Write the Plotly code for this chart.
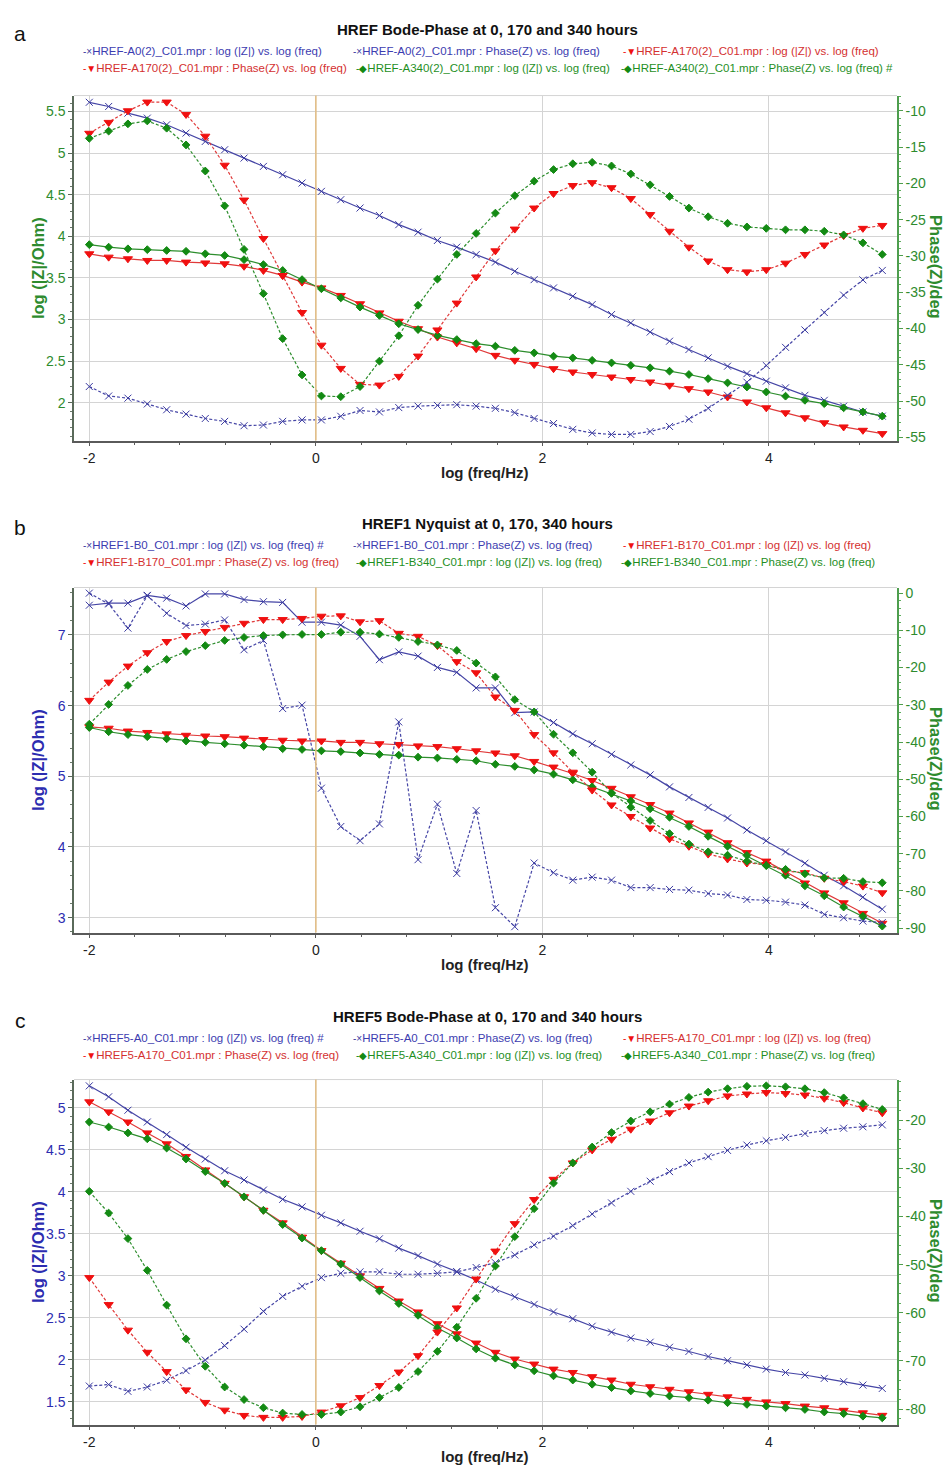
import plotly.graph_objects as go

# ---------------- data ----------------
log_freq = [-2.0, -1.829, -1.659, -1.488, -1.317, -1.146, -0.976, -0.805, -0.634, -0.463,
            -0.293, -0.122, 0.049, 0.220, 0.390, 0.561, 0.732, 0.902, 1.073, 1.244,
            1.415, 1.585, 1.756, 1.927, 2.098, 2.268, 2.439, 2.610, 2.780, 2.951,
            3.122, 3.293, 3.463, 3.634, 3.805, 3.976, 4.146, 4.317, 4.488, 4.659,
            4.829, 5.0]

# Panel a
a_A0_logZ = [5.61, 5.56, 5.48, 5.42, 5.34, 5.24, 5.14, 5.04, 4.94, 4.84, 4.74, 4.64, 4.54, 4.44,
             4.34, 4.25, 4.14, 4.05, 3.95, 3.87, 3.78, 3.69, 3.58, 3.48, 3.38, 3.28, 3.18, 3.06,
             2.96, 2.85, 2.74, 2.64, 2.54, 2.44, 2.35, 2.26, 2.18, 2.09, 2.03, 1.96, 1.89, 1.84]
a_A0_phase = [-48.0, -49.3, -49.6, -50.4, -51.2, -51.8, -52.4, -52.8, -53.4, -53.3, -52.8, -52.6,
              -52.6, -52.1, -51.3, -51.5, -50.9, -50.7, -50.6, -50.5, -50.7, -51.0, -51.6, -52.4,
              -53.1, -53.9, -54.4, -54.6, -54.6, -54.2, -53.5, -52.5, -51.0, -49.2, -47.4, -45.1,
              -42.6, -40.2, -37.8, -35.4, -33.3, -32.0]
a_A170_logZ = [3.79, 3.75, 3.73, 3.71, 3.71, 3.69, 3.68, 3.67, 3.64, 3.59, 3.53, 3.45, 3.38, 3.29,
               3.19, 3.08, 2.98, 2.89, 2.79, 2.72, 2.65, 2.57, 2.51, 2.46, 2.41, 2.37, 2.34, 2.31,
               2.28, 2.25, 2.21, 2.17, 2.13, 2.07, 2.01, 1.94, 1.88, 1.82, 1.76, 1.71, 1.67, 1.63]
a_A170_phase = [-13.1, -11.6, -10.0, -8.8, -8.8, -10.5, -13.5, -17.5, -22.3, -27.6, -32.7, -37.8,
                -42.3, -45.5, -47.7, -47.8, -46.6, -43.8, -40.2, -36.5, -32.9, -29.3, -26.3, -23.4,
                -21.4, -20.3, -19.9, -20.6, -22.1, -24.3, -26.6, -28.8, -30.7, -31.9, -32.2, -31.9,
                -31.0, -29.8, -28.5, -27.2, -26.2, -25.8]
a_A340_logZ = [3.90, 3.87, 3.85, 3.84, 3.83, 3.82, 3.79, 3.77, 3.72, 3.66, 3.59, 3.48, 3.37, 3.26,
               3.15, 3.05, 2.95, 2.88, 2.81, 2.76, 2.71, 2.68, 2.63, 2.60, 2.56, 2.54, 2.51, 2.48,
               2.45, 2.42, 2.38, 2.34, 2.29, 2.24, 2.19, 2.13, 2.08, 2.03, 1.99, 1.94, 1.89, 1.84]
a_A340_phase = [-13.8, -12.8, -11.8, -11.4, -12.4, -14.7, -18.3, -23.1, -29.1, -35.2, -41.4, -46.4,
                -49.3, -49.4, -48.0, -44.5, -41.0, -36.8, -33.2, -29.8, -26.9, -24.1, -21.7, -19.7,
                -18.1, -17.3, -17.1, -17.6, -18.7, -20.2, -21.8, -23.4, -24.6, -25.5, -26.0, -26.2,
                -26.4, -26.4, -26.6, -27.1, -28.2, -29.8]

# Panel b
b_B0_logZ = [7.42, 7.45, 7.45, 7.56, 7.52, 7.41, 7.58, 7.58, 7.50, 7.47, 7.46, 7.18, 7.18, 7.14,
             6.98, 6.65, 6.76, 6.70, 6.54, 6.47, 6.25, 6.25, 5.90, 5.91, 5.76, 5.60, 5.46, 5.31,
             5.16, 5.02, 4.85, 4.70, 4.56, 4.41, 4.24, 4.09, 3.93, 3.77, 3.60, 3.45, 3.29, 3.12]
b_B0_phase = [0.0, -2.9, -9.4, -0.7, -5.4, -8.7, -8.3, -7.2, -15.2, -12.7, -31.0, -30.1, -52.4,
              -62.7, -66.5, -62.0, -34.6, -71.6, -56.7, -75.3, -58.4, -84.5, -89.6, -72.5, -75.1,
              -77.1, -76.3, -77.1, -79.1, -79.1, -79.6, -79.8, -80.7, -81.1, -82.3, -82.5, -83.0,
              -83.8, -86.3, -87.2, -88.1, -88.5]
b_B170_logZ = [5.70, 5.68, 5.64, 5.62, 5.60, 5.58, 5.57, 5.56, 5.54, 5.52, 5.51, 5.50, 5.50, 5.48,
               5.48, 5.46, 5.45, 5.43, 5.42, 5.39, 5.36, 5.33, 5.29, 5.21, 5.13, 5.04, 4.94, 4.83,
               4.71, 4.60, 4.48, 4.34, 4.21, 4.06, 3.92, 3.80, 3.65, 3.49, 3.35, 3.21, 3.06, 2.92]
b_B170_phase = [-28.8, -23.9, -19.6, -16.0, -13.0, -11.4, -10.3, -9.2, -8.1, -7.1, -7.1, -6.8,
                -6.2, -6.1, -7.7, -7.4, -10.8, -11.6, -14.1, -18.4, -21.4, -27.9, -31.5, -38.0,
                -42.9, -48.1, -52.9, -56.9, -60.0, -63.1, -66.0, -68.0, -70.1, -71.4, -72.5, -72.9,
                -74.7, -75.1, -76.6, -77.5, -78.7, -80.5]
b_B340_logZ = [5.69, 5.63, 5.59, 5.56, 5.53, 5.50, 5.48, 5.46, 5.44, 5.42, 5.39, 5.38, 5.36, 5.35,
               5.33, 5.31, 5.30, 5.27, 5.26, 5.24, 5.22, 5.17, 5.14, 5.09, 5.03, 4.95, 4.85, 4.76,
               4.65, 4.54, 4.42, 4.29, 4.15, 4.01, 3.88, 3.74, 3.60, 3.45, 3.31, 3.15, 3.02, 2.88]
b_B340_phase = [-35.2, -29.9, -24.8, -20.5, -17.8, -15.7, -14.1, -12.7, -11.9, -11.4, -11.2, -11.1,
                -11.1, -10.5, -10.5, -11.0, -11.9, -13.0, -13.9, -15.4, -18.8, -22.5, -28.6, -31.9,
                -37.9, -42.9, -48.1, -53.7, -57.5, -61.1, -64.6, -67.4, -69.5, -70.4, -72.0, -73.2,
                -74.2, -75.4, -76.5, -76.6, -77.5, -77.8]

# Panel c
c_A0_logZ = [5.26, 5.13, 4.97, 4.83, 4.68, 4.53, 4.39, 4.25, 4.14, 4.02, 3.91, 3.82, 3.72, 3.63,
             3.53, 3.44, 3.33, 3.24, 3.14, 3.05, 2.95, 2.84, 2.75, 2.66, 2.57, 2.49, 2.40, 2.33,
             2.26, 2.21, 2.15, 2.10, 2.04, 1.99, 1.94, 1.89, 1.85, 1.82, 1.78, 1.74, 1.70, 1.66]
c_A0_phase = [-75.2, -74.9, -76.3, -75.4, -74.0, -72.0, -69.8, -66.8, -63.4, -59.7, -56.6, -54.5,
              -52.7, -51.8, -51.5, -51.5, -52.0, -52.0, -51.8, -51.5, -50.6, -49.6, -48.0, -45.9,
              -44.1, -41.9, -39.5, -37.2, -34.8, -32.7, -30.7, -28.9, -27.6, -26.3, -25.2, -24.3,
              -23.6, -22.8, -22.2, -21.7, -21.4, -21.0]
c_A170_logZ = [5.07, 4.95, 4.83, 4.70, 4.57, 4.42, 4.26, 4.10, 3.94, 3.78, 3.63, 3.46, 3.30, 3.15,
               3.00, 2.85, 2.70, 2.57, 2.43, 2.31, 2.20, 2.09, 2.01, 1.95, 1.89, 1.85, 1.80, 1.76,
               1.71, 1.68, 1.65, 1.62, 1.59, 1.56, 1.53, 1.50, 1.48, 1.45, 1.43, 1.40, 1.37, 1.34]
c_A170_phase = [-52.7, -58.3, -63.6, -68.2, -72.2, -76.0, -78.6, -80.2, -81.3, -81.7, -81.7, -81.5,
                -80.6, -79.3, -77.6, -75.1, -72.3, -68.9, -64.0, -59.0, -53.0, -47.2, -41.5, -36.5,
                -32.3, -28.9, -26.2, -24.0, -21.9, -20.2, -18.5, -17.1, -16.0, -15.0, -14.6, -14.3,
                -14.5, -14.8, -15.5, -16.4, -17.5, -18.5]
c_A340_logZ = [4.83, 4.77, 4.70, 4.63, 4.52, 4.39, 4.24, 4.10, 3.94, 3.78, 3.61, 3.45, 3.30, 3.14,
               2.98, 2.82, 2.67, 2.53, 2.38, 2.26, 2.13, 2.02, 1.94, 1.87, 1.81, 1.76, 1.71, 1.67,
               1.63, 1.60, 1.57, 1.55, 1.52, 1.49, 1.47, 1.45, 1.43, 1.41, 1.38, 1.36, 1.33, 1.31]
c_A340_phase = [-34.8, -39.3, -44.6, -51.2, -58.4, -65.4, -71.1, -75.4, -78.0, -79.7, -80.8, -81.1,
                -81.1, -80.6, -79.5, -77.6, -75.5, -72.2, -68.0, -63.0, -57.0, -50.3, -44.2, -38.4,
                -33.1, -28.9, -25.6, -22.6, -20.2, -18.3, -16.7, -15.3, -14.2, -13.5, -13.0, -12.9,
                -13.1, -13.5, -14.3, -15.4, -16.6, -17.8]

# tick labels
x_ticks = [-2, 0, 2, 4]
a_left_ticks = [2, 2.5, 3, 3.5, 4, 4.5, 5, 5.5]
a_right_ticks = [-55, -50, -45, -40, -35, -30, -25, -20, -15, -10]
b_left_ticks = [3, 4, 5, 6, 7]
b_right_ticks = [-90, -80, -70, -60, -50, -40, -30, -20, -10, 0]
c_left_ticks = [1.5, 2, 2.5, 3, 3.5, 4, 4.5, 5]
c_right_ticks = [-80, -70, -60, -50, -40, -30, -20]

titles = ["HREF Bode-Phase at 0, 170 and 340 hours",
          "HREF1 Nyquist at 0, 170, 340 hours",
          "HREF5 Bode-Phase at 0, 170 and 340 hours"]
panel_labels = ["a", "b", "c"]

names_a = ["HREF-A0(2)_C01.mpr : log (|Z|) vs. log (freq)",
           "HREF-A0(2)_C01.mpr : Phase(Z) vs. log (freq)",
           "HREF-A170(2)_C01.mpr : log (|Z|) vs. log (freq)",
           "HREF-A170(2)_C01.mpr : Phase(Z) vs. log (freq)",
           "HREF-A340(2)_C01.mpr : log (|Z|) vs. log (freq)",
           "HREF-A340(2)_C01.mpr : Phase(Z) vs. log (freq) #"]
names_b = ["HREF1-B0_C01.mpr : log (|Z|) vs. log (freq) #",
           "HREF1-B0_C01.mpr : Phase(Z) vs. log (freq)",
           "HREF1-B170_C01.mpr : log (|Z|) vs. log (freq)",
           "HREF1-B170_C01.mpr : Phase(Z) vs. log (freq)",
           "HREF1-B340_C01.mpr : log (|Z|) vs. log (freq)",
           "HREF1-B340_C01.mpr : Phase(Z) vs. log (freq)"]
names_c = ["HREF5-A0_C01.mpr : log (|Z|) vs. log (freq) #",
           "HREF5-A0_C01.mpr : Phase(Z) vs. log (freq)",
           "HREF5-A170_C01.mpr : log (|Z|) vs. log (freq)",
           "HREF5-A170_C01.mpr : Phase(Z) vs. log (freq)",
           "HREF5-A340_C01.mpr : log (|Z|) vs. log (freq)",
           "HREF5-A340_C01.mpr : Phase(Z) vs. log (freq)"]

# ---------------- style ----------------
W, H = 944, 1472
FONT = "Liberation Sans, Arial, sans-serif"
BLUE_L, RED_L, GREEN_L = "#4646A6", "#E03A3A", "#2E8E2E"
BLUE_M, RED_M, GREEN_M = "#3A3AA0", "#F01010", "#138A13"
BLUE_T, RED_T, GREEN_T = "#3C3CB0", "#D43030", "#1F8F1F"
AX_GREEN = "#2E8B2E"
AX_BLUE = "#2C2CB0"

PLOT_L, PLOT_R = 74, 897
panels_px = [(94.0, 440.7), (588.3, 935.0), (1082.7, 1429.3)]
x_range = [-2.135, 5.13]
left_ranges = [[1.546, 5.691], [2.789, 7.671], [1.231, 5.335]]
right_ranges = [[-55.45, -7.90], [-91.18, 1.515], [-83.18, -11.60]]
left_ticks = [a_left_ticks, b_left_ticks, c_left_ticks]
right_ticks = [a_right_ticks, b_right_ticks, c_right_ticks]
left_minor = [0.1, 0.2, 0.1]
right_minor = [1, 2, 2]
left_col = [AX_GREEN, AX_BLUE, AX_BLUE]
header_shift = [-2, 0, 1]

panel_series = [
    (names_a, [a_A0_logZ, a_A0_phase, a_A170_logZ, a_A170_phase, a_A340_logZ, a_A340_phase]),
    (names_b, [b_B0_logZ, b_B0_phase, b_B170_logZ, b_B170_phase, b_B340_logZ, b_B340_phase]),
    (names_c, [c_A0_logZ, c_A0_phase, c_A170_logZ, c_A170_phase, c_A340_logZ, c_A340_phase]),
]

styles = [
    dict(lc=BLUE_L, mc=BLUE_M, tc=BLUE_T, sym="x-thin-open", size=7, dash="solid", glyph="\u2011\u00d7"),
    dict(lc=BLUE_L, mc=BLUE_M, tc=BLUE_T, sym="x-thin-open", size=7, dash="3px,2px", glyph="-\u00d7"),
    dict(lc=RED_L, mc=RED_M, tc=RED_T, sym="triangle-down", size=8, dash="solid", glyph="-\u25bc"),
    dict(lc=RED_L, mc=RED_M, tc=RED_T, sym="triangle-down", size=8, dash="3px,2px", glyph="-\u25bc"),
    dict(lc=GREEN_L, mc=GREEN_M, tc=GREEN_T, sym="diamond", size=6, dash="solid", glyph="-\u25c6"),
    dict(lc=GREEN_L, mc=GREEN_M, tc=GREEN_T, sym="diamond", size=6, dash="3px,2px", glyph="-\u25c6"),
]

# legend grid (text start x for the 3 columns, per row)
legend_cols = [[91, 361, 631], [91, 364, 629]]

fig = go.Figure()
layout = dict(width=W, height=H, margin=dict(l=0, r=0, t=0, b=0),
              paper_bgcolor="white", plot_bgcolor="white", showlegend=False,
              font=dict(family=FONT, size=12, color="#222"))
annotations = []
shapes = []

for p in range(3):
    xa = "x" if p == 0 else f"x{p + 1}"
    yl_n = 2 * p + 1
    yr_n = 2 * p + 2
    yl = "y" if yl_n == 1 else f"y{yl_n}"
    yr = f"y{yr_n}"
    top, bot = panels_px[p]
    hs = header_shift[p]
    ydom = [1 - bot / H, 1 - top / H]

    names, series = panel_series[p]
    for k in range(6):
        st = styles[k]
        fig.add_trace(go.Scatter(
            x=log_freq, y=series[k], mode="lines+markers", name=names[k],
            line=dict(color=st["lc"], width=1.2, dash=st["dash"]),
            marker=dict(symbol=st["sym"], size=st["size"], color=st["mc"],
                        line=dict(width=1, color=st["mc"])),
            xaxis=xa, yaxis=(yl if k % 2 == 0 else yr),
        ))
        # legend entry (3 columns x 2 rows)
        row, col = divmod(k, 3)
        tx = legend_cols[row][col]
        ty = top - 43 + hs + row * 17
        annotations.append(dict(
            text=(f'<span style="color:{st["mc"]};font-size:10px">{st["glyph"]}</span>'
                  f'<span style="color:{st["tc"]}">{names[k]}</span>'),
            x=(tx - 10) / W, y=1 - ty / H, xref="paper", yref="paper",
            xanchor="left", yanchor="middle", showarrow=False,
            font=dict(size=11.5, family=FONT, color=st["tc"])))

    xkey = "xaxis" if p == 0 else f"xaxis{p + 1}"
    layout[xkey] = dict(
        domain=[PLOT_L / W, PLOT_R / W], anchor=yl, range=x_range,
        tickvals=x_ticks, ticktext=[str(v) for v in x_ticks],
        showgrid=True, gridcolor="#d4d4d4", gridwidth=1, zeroline=False,
        showline=True, linecolor="#5a5a5a", linewidth=1.5,
        ticks="outside", ticklen=4, tickcolor="#5a5a5a",
        tickfont=dict(size=14, color="#222", family=FONT),
        minor=dict(dtick=0.4, ticks="outside", ticklen=3, tickcolor="#5a5a5a", showgrid=False),
    )
    ylkey = "yaxis" if yl_n == 1 else f"yaxis{yl_n}"
    lt = left_ticks[p]
    layout[ylkey] = dict(
        domain=ydom, anchor=xa, range=left_ranges[p],
        tickvals=lt, ticktext=[("%g" % v) for v in lt],
        showgrid=True, gridcolor="#d4d4d4", gridwidth=1, zeroline=False,
        showline=True, linecolor="#5a6a5a", linewidth=1.5,
        ticks="outside", ticklen=4, tickcolor="#5a6a5a",
        tickfont=dict(size=14, color=left_col[p], family=FONT),
        minor=dict(dtick=left_minor[p], ticks="outside", ticklen=2, tickcolor="#6a7a6a", showgrid=False),
    )
    yrkey = f"yaxis{yr_n}"
    rt = right_ticks[p]
    layout[yrkey] = dict(
        overlaying=yl, anchor=xa, side="right", range=right_ranges[p],
        tickvals=rt, ticktext=[str(v) for v in rt],
        showgrid=False, zeroline=False,
        showline=True, linecolor="#4E9E4E", linewidth=1.5,
        ticks="outside", ticklen=4, tickcolor="#4E9E4E",
        tickfont=dict(size=14, color=AX_GREEN, family=FONT),
        minor=dict(dtick=right_minor[p], ticks="outside", ticklen=2, tickcolor="#5EAE5E", showgrid=False),
    )

    # orange reference line at log f = 0
    shapes.append(dict(type="line", xref=xa, yref=f"{yl} domain", x0=0, x1=0, y0=0, y1=1,
                       line=dict(color="#E2BE86", width=1.6), layer="above"))
    # light top frame
    shapes.append(dict(type="line", xref=f"{xa} domain", yref=f"{yl} domain", x0=0, x1=1, y0=1, y1=1,
                       line=dict(color="#d4d4d4", width=1), layer="below"))

    # titles and labels
    annotations.append(dict(text=f"<b>{titles[p]}</b>", x=487 / W, y=1 - (top - 64 + hs) / H,
                            xref="paper", yref="paper", showarrow=False, xanchor="center", yanchor="middle",
                            font=dict(size=15, color="#111", family=FONT)))
    annotations.append(dict(text=panel_labels[p], x=20 / W, y=1 - (top - 60 + hs) / H,
                            xref="paper", yref="paper", showarrow=False, xanchor="center", yanchor="middle",
                            font=dict(size=21, color="#111", family=FONT)))
    annotations.append(dict(text="<b>log (freq/Hz)</b>", x=485 / W, y=1 - (bot + 32) / H,
                            xref="paper", yref="paper", showarrow=False, xanchor="center", yanchor="middle",
                            font=dict(size=15, color="#222", family=FONT)))
    annotations.append(dict(text="<b>log (|Z|/Ohm)</b>", x=38 / W, y=1 - ((top + bot) / 2) / H,
                            xref="paper", yref="paper", showarrow=False, xanchor="center", yanchor="middle",
                            textangle=-90, font=dict(size=16.5, color=left_col[p], family=FONT)))
    annotations.append(dict(text="<b>Phase(Z)/deg</b>", x=936 / W, y=1 - ((top + bot) / 2 - 1) / H,
                            xref="paper", yref="paper", showarrow=False, xanchor="center", yanchor="middle",
                            textangle=90, font=dict(size=16.5, color=AX_GREEN, family=FONT)))

layout["annotations"] = annotations
layout["shapes"] = shapes
fig.update_layout(**layout)
fig.write_html("out.html")
